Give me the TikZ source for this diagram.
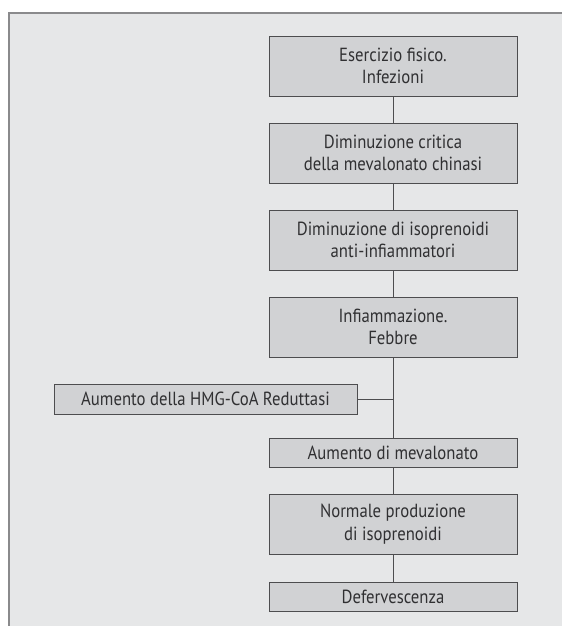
\documentclass[tikz,border=0pt]{standalone}
\usepackage{fontspec}
\setmainfont{PT Sans}[FakeStretch=0.88]
\definecolor{bgc}{HTML}{E6E7E8}
\definecolor{boxc}{HTML}{D1D2D4}
\definecolor{linec}{HTML}{4D4D4F}
\definecolor{framec}{HTML}{8A8A8C}
\definecolor{textc}{HTML}{303032}
\tikzset{
  stepbox/.style={draw=linec, line width=0.9pt, fill=boxc, minimum width=248pt, align=center, inner sep=0pt, text=textc, font=\fontsize{19}{22.5}\selectfont},
  tall/.style={minimum height=60pt},
  short/.style={minimum height=29pt},
  conn/.style={draw=linec, line width=0.9pt}
}
\begin{document}
\begin{tikzpicture}[x=1pt,y=-1pt]
\useasboundingbox (0,0) rectangle (562,626);
\fill[white] (0,0) rectangle (562,626);
\fill[bgc] (9,13) rectangle (562,626);
\draw[framec, line width=1.6pt] (9,626) -- (9,13) -- (562,13);
\node[stepbox, tall] (b1) at (393,66) {Esercizio fisico.\\Infezioni};
\node[stepbox, tall] (b2) at (393,153) {Diminuzione critica\\della mevalonato chinasi};
\node[stepbox, tall] (b3) at (393,240) {Diminuzione di isoprenoidi\\anti-infiammatori};
\node[stepbox, tall] (b4) at (393,327) {Infiammazione.\\Febbre};
\node[stepbox, minimum width=303pt, minimum height=30pt] (hmg) at (205.5,399) {Aumento della HMG-CoA Reduttasi};
\node[stepbox, short] (b5) at (393,452.5) {Aumento di mevalonato};
\node[stepbox, tall] (b6) at (393,524) {Normale produzione\\di isoprenoidi};
\node[stepbox, short] (b7) at (393,596.5) {Defervescenza};
\coordinate (j) at (393,399);
\draw[conn] (b1) -- (b2);
\draw[conn] (b2) -- (b3);
\draw[conn] (b3) -- (b4);
\draw[conn] (b4) -- (b5);
\draw[conn] (hmg) -- (j);
\draw[conn] (b5) -- (b6);
\draw[conn] (b6) -- (b7);
\end{tikzpicture}
\end{document}
